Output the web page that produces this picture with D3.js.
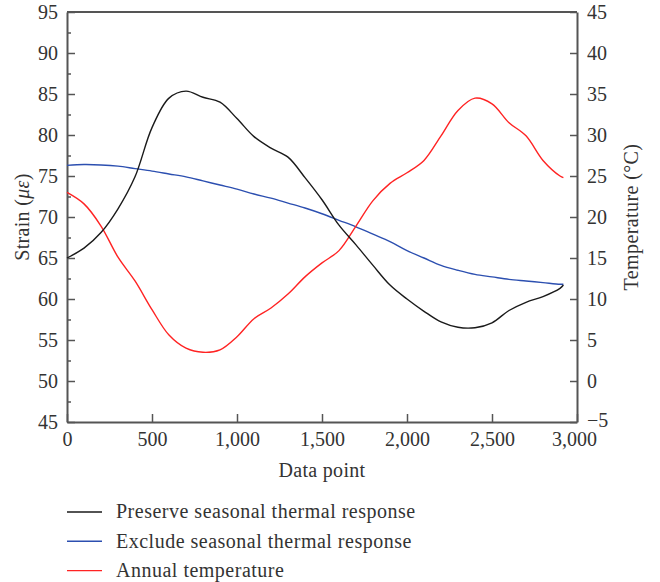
<!DOCTYPE html>
<html>
<head>
<meta charset="utf-8">
<script src="https://cdn.jsdelivr.net/npm/d3@7"></script>
<style>
  body { margin: 0; background: #fff; }
  svg text { font-family: "Liberation Serif", "DejaVu Serif", serif; fill: #333; }
</style>
</head>
<body>
<svg id="chart" width="660" height="582"></svg>
<script>
// Sample positions (data point index)
const dataPoints = [0, 100, 200, 300, 400, 500, 600, 700, 800, 900, 1000, 1100, 1200, 1300, 1400,
  1500, 1600, 1700, 1800, 1900, 2000, 2100, 2200, 2300, 2400, 2500, 2600, 2700, 2800, 2900, 2920];

// Strain with the seasonal thermal response kept (με)
const strainPreserve = [65.0, 66.2, 68.1, 71.0, 74.9, 80.9, 84.5, 85.35, 84.6, 84.0, 82.0, 79.8, 78.4, 77.3, 74.8,
  72.1, 69.0, 66.6, 64.1, 61.7, 60.0, 58.5, 57.2, 56.55, 56.5, 57.1, 58.6, 59.6, 60.3, 61.3, 61.7];

// Strain with the seasonal thermal response removed (με)
const strainExclude = [76.3, 76.4, 76.35, 76.2, 75.9, 75.6, 75.25, 74.9, 74.4, 73.9, 73.4, 72.8, 72.3, 71.7, 71.1,
  70.4, 69.6, 68.8, 67.9, 67.0, 65.9, 65.0, 64.1, 63.5, 63.0, 62.7, 62.4, 62.2, 62.0, 61.8, 61.8];

// Annual temperature (°C)
const temperature = [23.0, 21.6, 18.9, 15.1, 12.2, 8.7, 5.6, 4.0, 3.5, 3.8, 5.4, 7.6, 8.9, 10.6, 12.7,
  14.4, 15.9, 18.9, 22.0, 24.1, 25.4, 26.9, 29.9, 33.0, 34.5, 33.8, 31.5, 29.9, 26.9, 25.0, 24.8];

const xTicks = [0, 500, 1000, 1500, 2000, 2500, 3000];
const strainTicks = [45, 50, 55, 60, 65, 70, 75, 80, 85, 90, 95];
const strainMinorTicks = [47.5, 52.5, 57.5, 62.5, 67.5, 72.5, 77.5, 82.5, 87.5, 92.5];
const tempTicks = [-5, 0, 5, 10, 15, 20, 25, 30, 35, 40, 45];

const seriesNames = ["Preserve seasonal thermal response", "Exclude seasonal thermal response", "Annual temperature"];
const seriesColors = ["#1a1a1a", "#2c4fb0", "#ff2323"];

const svg = d3.select("#chart");
const plot = { left: 67, right: 577, top: 12, bottom: 422 };
const fontSize = 20;
const axisColor = "#555";

const x = d3.scaleLinear().domain([0, 3000]).range([plot.left, plot.right]);
const yL = d3.scaleLinear().domain([45, 95]).range([plot.bottom, plot.top]);
const yR = d3.scaleLinear().domain([-5, 45]).range([plot.bottom, plot.top]);

function styleAxis(g) {
  g.selectAll("path.domain").attr("stroke", axisColor).attr("stroke-width", 2);
  g.selectAll(".tick line").attr("stroke", axisColor).attr("stroke-width", 1.5);
  g.selectAll(".tick text").attr("font-size", fontSize).attr("fill", "#333")
    .style("font-family", '"Liberation Serif", serif');
}

// Top frame line
svg.append("line")
  .attr("x1", plot.left).attr("x2", plot.right)
  .attr("y1", plot.top).attr("y2", plot.top)
  .attr("stroke", axisColor).attr("stroke-width", 2);

// Left strain axis (ticks pointing inward)
svg.append("g")
  .attr("transform", `translate(${plot.left},0)`)
  .call(d3.axisLeft(yL).tickValues(strainMinorTicks).tickSize(-4).tickFormat("").tickSizeOuter(0))
  .call(g => { g.select("path.domain").remove(); g.selectAll(".tick line").attr("stroke", axisColor).attr("stroke-width", 1.5); });
svg.append("g")
  .attr("transform", `translate(${plot.left},0)`)
  .call(d3.axisLeft(yL).tickValues(strainTicks).tickSize(-8).tickSizeOuter(0).tickPadding(9))
  .call(styleAxis);

// Right temperature axis
svg.append("g")
  .attr("transform", `translate(${plot.right},0)`)
  .call(d3.axisRight(yR).tickValues(tempTicks).tickSize(-7).tickSizeOuter(0).tickPadding(10)
    .tickFormat(d => d < 0 ? "\u2212" + Math.abs(d) : d))
  .call(styleAxis)
  .call(g => g.selectAll(".tick text").filter(d => d === -5).attr("dy", "0.2em"));

// Bottom axis
svg.append("g")
  .attr("transform", `translate(0,${plot.bottom})`)
  .call(d3.axisBottom(x).tickValues(xTicks).tickSize(-8).tickSizeOuter(0).tickPadding(10)
    .tickFormat(d3.format(",")))
  .call(styleAxis)
  .call(g => g.selectAll(".tick text").filter(d => d === 3000).attr("dx", "-0.15em"));

// Series lines
const lineL = d3.line().x((d, i) => x(dataPoints[i])).y(d => yL(d)).curve(d3.curveCatmullRom.alpha(0.5));
const lineR = d3.line().x((d, i) => x(dataPoints[i])).y(d => yR(d)).curve(d3.curveCatmullRom.alpha(0.5));

svg.append("path").datum(strainExclude).attr("d", lineL)
  .attr("fill", "none").attr("stroke", seriesColors[1]).attr("stroke-width", 1.4);
svg.append("path").datum(temperature).attr("d", lineR)
  .attr("fill", "none").attr("stroke", seriesColors[2]).attr("stroke-width", 1.4);
svg.append("path").datum(strainPreserve).attr("d", lineL)
  .attr("fill", "none").attr("stroke", seriesColors[0]).attr("stroke-width", 1.4);

// Axis titles
svg.append("text")
  .attr("x", (plot.left + plot.right) / 2).attr("y", 477)
  .attr("text-anchor", "middle").attr("font-size", fontSize).attr("letter-spacing", 0.3)
  .text("Data point");

const leftTitle = svg.append("text")
  .attr("transform", `translate(29,${(plot.top + plot.bottom) / 2}) rotate(-90)`)
  .attr("text-anchor", "middle").attr("font-size", fontSize).attr("letter-spacing", 0.3);
leftTitle.append("tspan").text("Strain (");
leftTitle.append("tspan").attr("font-style", "italic").text("\u03bc\u03b5");
leftTitle.append("tspan").text(")");

svg.append("text")
  .attr("transform", `translate(638,${(plot.top + plot.bottom) / 2}) rotate(-90)`)
  .attr("text-anchor", "middle").attr("font-size", fontSize).attr("letter-spacing", 0.4)
  .text("Temperature (\u00b0C)");

// Legend
const legend = svg.append("g").attr("transform", "translate(67,512)");
seriesNames.forEach((name, i) => {
  const row = legend.append("g").attr("transform", `translate(0,${i * 29.3})`);
  row.append("line").attr("x1", 0).attr("x2", 35).attr("y1", 0).attr("y2", 0)
    .attr("stroke", seriesColors[i]).attr("stroke-width", 1.4);
  row.append("text").attr("x", 49).attr("y", 0).attr("dy", "0.32em")
    .attr("font-size", fontSize).attr("letter-spacing", 0.5).text(name);
});
</script>
</body>
</html>
